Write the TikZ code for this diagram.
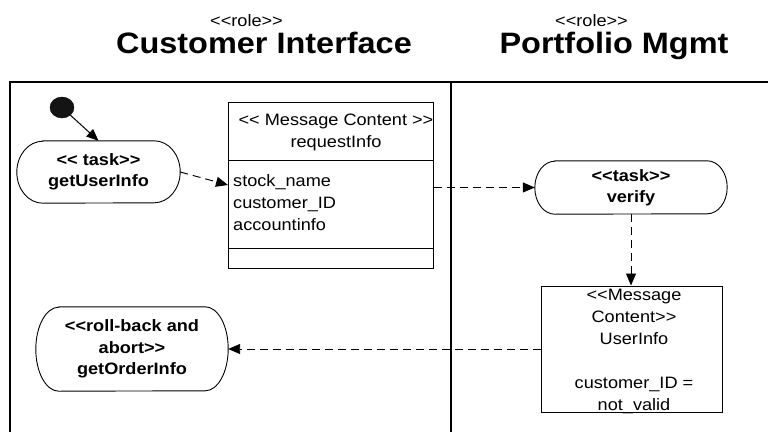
\documentclass[tikz,border=0pt]{standalone}
\usepackage{fontspec}
\setmainfont{Liberation Sans}[FakeStretch=1.1]
\usetikzlibrary{arrows.meta,shapes.geometric}

% guillemet-like stereotype brackets, kept as two separate characters
\newcommand\opg{<\kern0pt<}
\newcommand\clg{>\kern0pt>}

% outline of an activity: straight top and bottom, elliptical ends
\newcommand\stadium[3]{%
  \draw[taskline] ([xshift=#2]#1.north west) -- ([xshift=-#2]#1.north east)
    arc[start angle=90, end angle=-90, x radius=#2, y radius=#3]
    -- ([xshift=#2]#1.south west)
    arc[start angle=270, end angle=90, x radius=#2, y radius=#3] -- cycle;}

\tikzset{
  lane/.style={line width=2.2pt},
  taskline/.style={line width=0.9pt},
  task/.style={rectangle, inner sep=0pt, align=center,
    font=\fontsize{16.5}{21.5}\selectfont\bfseries},
  msgbox/.style={rectangle, draw, line width=1pt, inner sep=0pt},
  msgtext/.style={inner sep=0pt, font=\fontsize{16.5}{22}\selectfont},
  roletag/.style={inner sep=0pt, font=\fontsize{16.5}{20}\selectfont},
  roletitle/.style={inner sep=0pt, font=\fontsize{29.5}{34}\selectfont\bfseries},
  flow/.style={line width=0.95pt, dash pattern=on 8pt off 5pt,
    -{Triangle[length=12pt,width=10pt]}},
  solidflow/.style={line width=1pt, -{Triangle[length=12pt,width=10pt]}},
}

\begin{document}
\begin{tikzpicture}[x=1pt,y=-1pt]
\useasboundingbox (0,0) rectangle (768,431);
\fill[white] (0,0) rectangle (768,431);

% role headings
\node[roletag, anchor=base] (tagA) at (246.5,26) {\opg role\clg};
\node[roletitle, anchor=base] (roleA) at (264,53) {Customer Interface};
\node[roletag, anchor=base] (tagB) at (591.5,26) {\opg role\clg};
\node[roletitle, anchor=base] (roleB) at (614,53) {Portfolio Mgmt};

% swimlane frame
\draw[lane] (10,432) -- (10,82) -- (769,82);
\draw[lane] (451,82) -- (451,432);

% initial state
\node[ellipse, fill=black!92, draw=black, minimum width=24pt, minimum height=21pt,
  inner sep=0pt] (start) at (62,107.5) {};

% activities
\node[task, minimum width=163pt, minimum height=62pt] (getinfo) at (98.5,172)
  {\opg\ task\clg\\getUserInfo};
\stadium{getinfo}{26pt}{31pt}

\node[task, minimum width=192pt, minimum height=53pt] (verify) at (631,187.5)
  {\opg task\clg\\verify};
\stadium{verify}{20pt}{26.5pt}

\node[task, minimum width=192pt, minimum height=84pt] (rollback) at (132,349)
  {\opg roll-back and\\abort\clg\\getOrderInfo};
\stadium{rollback}{23pt}{42pt}

% message content: requestInfo
\node[msgbox, minimum width=205pt, minimum height=166pt] (req) at (330.5,185) {};
\draw[line width=1pt] ([yshift=-59pt]req.north west) -- ([yshift=-59pt]req.north east);
\draw[line width=1pt] ([yshift=20pt]req.south west) -- ([yshift=20pt]req.south east);
\node[msgtext, align=center] (reqhead) at (336,132.5)
  {\opg\ Message Content \clg\\requestInfo};
\node[msgtext, align=left, anchor=west] (reqattr) at (233,202.5)
  {stock\_name\\customer\_ID\\accountinfo};
\coordinate (reqin) at (228,185);

% message content: UserInfo
\node[msgbox, minimum width=181pt, minimum height=126pt] (uinfo) at (631.5,349) {};
\node[msgtext, align=center] (uinfotext) at (634,351)
  {\opg Message\\Content\clg\\UserInfo\\[22pt]customer\_ID =\\not\_valid};

% control and object flows
\draw[solidflow] (start) -- (getinfo.north);
\draw[flow] (getinfo.east) -- (reqin);
\draw[flow] (req.east |- verify.west) -- (verify.west);
\draw[flow] (verify.south) -- (verify.south |- uinfo.north);
\draw[flow] (uinfo.west) -- (rollback.east);
\end{tikzpicture}
\end{document}
